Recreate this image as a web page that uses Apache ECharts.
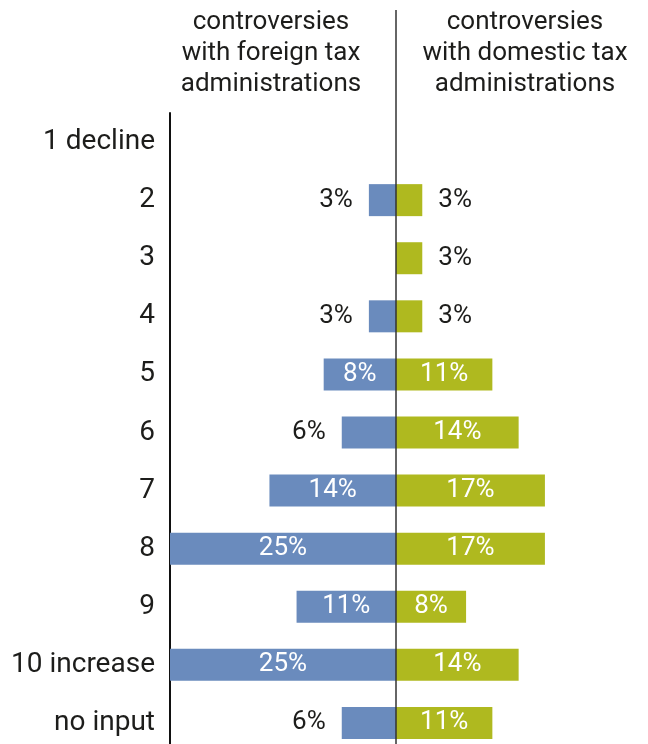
<!DOCTYPE html>
<html>
<head>
<meta charset="utf-8">
<script src="https://cdn.jsdelivr.net/npm/echarts@6/dist/echarts.min.js"></script>
<style>
  html, body { margin: 0; padding: 0; background: #fff; overflow: hidden; }
  #chart { width: 648px; height: 760px; }
</style>
</head>
<body>
<div id="chart"></div>
<script>
// Rating scale rows, top to bottom
const categories = ['1 decline', '2', '3', '4', '5', '6', '7', '8', '9', '10 increase', 'no input'];
// Share of answers (%) per rating
const foreignShare = [0, 3, 0, 3, 8, 6, 14, 25, 11, 25, 6];
const domesticShare = [0, 3, 3, 3, 11, 14, 17, 17, 8, 14, 11];
// Column headings
const foreignTitle = 'controversies\nwith foreign tax\nadministrations';
const domesticTitle = 'controversies\nwith domestic tax\nadministrations';

const FONT = 'Roboto, "DejaVu Sans", sans-serif';
const INK = '#1d1d1b';
const BLUE = '#6a8bbd';
const GREEN = '#afb91f';
const INSIDE_MIN = 7; // bars at least this wide carry their label inside

function toItems(values) {
  return values.map(function (v) {
    if (!v) return { value: 0, label: { show: false } };
    const inside = v >= INSIDE_MIN;
    return {
      value: v,
      label: {
        show: true,
        position: inside ? 'inside' : 'outside',
        distance: 16,
        color: inside ? '#ffffff' : INK
      }
    };
  });
}

const labelBase = {
  show: true,
  fontFamily: FONT,
  fontSize: 26,
  formatter: '{c}%'
};

const headingStyle = {
  fontFamily: FONT, fontSize: 26, fontWeight: 'normal', color: INK,
  lineHeight: 31, align: 'center'
};

const chart = echarts.init(document.getElementById('chart'), null, { renderer: 'canvas' });

chart.setOption({
  animation: false,
  backgroundColor: '#ffffff',
  title: [
    { text: foreignTitle, left: 271, top: 7, padding: 0, textAlign: 'center', textStyle: headingStyle },
    { text: domesticTitle, left: 525, top: 7, padding: 0, textAlign: 'center', textStyle: headingStyle }
  ],
  grid: [
    { left: 170, top: 113, width: 226, height: 639 },
    { left: 396, top: 113, width: 219, height: 639 }
  ],
  xAxis: [
    { gridIndex: 0, type: 'value', min: 0, max: 25, inverse: true, show: false },
    { gridIndex: 1, type: 'value', min: 0, max: 25, show: false }
  ],
  yAxis: [
    {
      gridIndex: 0, type: 'category', data: categories, inverse: true,
      axisLine: { show: true, onZero: false, lineStyle: { color: '#111', width: 2 } },
      axisTick: { show: false },
      splitLine: { show: false },
      axisLabel: { fontFamily: FONT, fontSize: 28, color: INK, margin: 15 }
    },
    {
      gridIndex: 1, type: 'category', data: categories, inverse: true,
      show: false
    }
  ],
  series: [
    {
      name: 'foreign',
      type: 'bar',
      xAxisIndex: 0, yAxisIndex: 0,
      barWidth: 32,
      itemStyle: { color: BLUE },
      label: labelBase,
      data: toItems(foreignShare)
    },
    {
      name: 'domestic',
      type: 'bar',
      xAxisIndex: 1, yAxisIndex: 1,
      barWidth: 32,
      itemStyle: { color: GREEN },
      label: labelBase,
      data: toItems(domesticShare)
    }
  ],
  graphic: [
    {
      type: 'line',
      shape: { x1: 396, y1: 10, x2: 396, y2: 760 },
      style: { stroke: '#333', lineWidth: 1.5 },
      z: 100
    }
  ]
});
</script>
</body>
</html>
